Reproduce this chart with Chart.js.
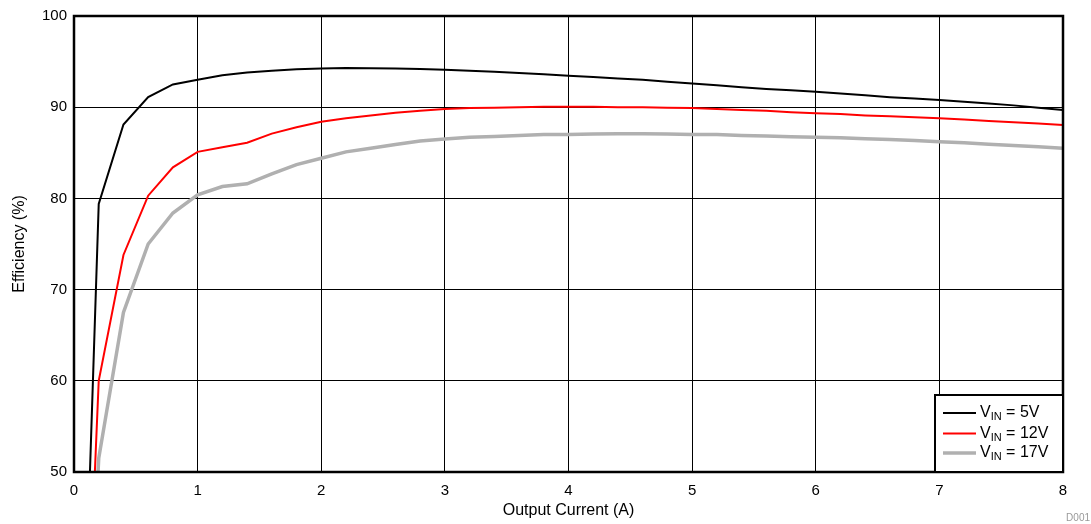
<!DOCTYPE html>
<html>
<head>
<meta charset="utf-8">
<script src="https://cdn.jsdelivr.net/npm/chart.js@4/dist/chart.umd.min.js"></script>
<style>
  html, body { margin: 0; padding: 0; background: #fff; }
  #wrap { width: 1091px; height: 524px; }
</style>
</head>
<body>
<div id="wrap"><canvas id="effChart"></canvas></div>
<script>
// Output current (A)
var currents = [0.1, 0.2, 0.4, 0.6, 0.8, 1.0, 1.2, 1.4, 1.6, 1.8, 2.0, 2.2, 2.4, 2.6, 2.8, 3.0, 3.2, 3.4, 3.6, 3.8,
  4.0, 4.2, 4.4, 4.6, 4.8, 5.0, 5.2, 5.4, 5.6, 5.8, 6.0, 6.2, 6.4, 6.6, 6.8, 7.0, 7.2, 7.4, 7.6, 7.8, 8.0];

// Efficiency (%) per input voltage
var eff5V = [38, 79.4, 88.1, 91.1, 92.5, 93.0, 93.5, 93.8, 94.0, 94.15, 94.25, 94.3, 94.28, 94.25, 94.2, 94.1, 94.0, 93.9, 93.75, 93.6,
  93.45, 93.3, 93.15, 93.0, 92.8, 92.6, 92.4, 92.2, 92.0, 91.85, 91.7, 91.5, 91.3, 91.1, 90.95, 90.8, 90.6, 90.4, 90.2, 89.95, 89.7];
var eff12V = [28, 60.0, 73.8, 80.3, 83.4, 85.1, 85.6, 86.1, 87.1, 87.8, 88.4, 88.8, 89.1, 89.4, 89.6, 89.8, 89.9, 89.95, 90.0, 90.05,
  90.05, 90.05, 90.0, 90.0, 89.95, 89.9, 89.8, 89.7, 89.6, 89.45, 89.35, 89.25, 89.1, 89.0, 88.9, 88.8, 88.65, 88.5, 88.35, 88.2, 88.05];
var eff17V = [25, 51.5, 67.5, 75.0, 78.4, 80.4, 81.3, 81.6, 82.7, 83.7, 84.4, 85.1, 85.5, 85.9, 86.3, 86.5, 86.7, 86.8, 86.9, 87.0,
  87.0, 87.05, 87.1, 87.1, 87.05, 87.0, 87.0, 86.9, 86.85, 86.75, 86.7, 86.65, 86.55, 86.45, 86.35, 86.2, 86.1, 85.95, 85.8, 85.65, 85.5];

var seriesNames = ['5V', '12V', '17V'];
var seriesColors = ['#000000', '#ff0000', '#b0b0b0'];
var seriesWidths = [2, 2, 3.5];

var FONT = 'Liberation Sans, Arial, sans-serif';

function toPoints(ys) {
  return currents.map(function (x, i) { return { x: x, y: ys[i] }; });
}

// Frame, legend box and footer label
var decorPlugin = {
  id: 'decor',
  afterDraw: function (chart) {
    var ctx = chart.ctx;
    var a = chart.chartArea;
    ctx.save();
    ctx.strokeStyle = '#000';
    ctx.lineWidth = 2.5;
    ctx.strokeRect(a.left, a.top, a.right - a.left, a.bottom - a.top);

    // legend
    var bx = a.right - 128, by = a.bottom - 77;
    ctx.fillStyle = '#fff';
    ctx.fillRect(bx, by, 128, 77);
    ctx.lineWidth = 2;
    ctx.strokeRect(bx, by, 128, 77);
    var rows = [18, 38.5, 58];
    for (var i = 0; i < seriesNames.length; i++) {
      var yy = by + rows[i];
      ctx.strokeStyle = seriesColors[i];
      ctx.lineWidth = seriesWidths[i];
      ctx.beginPath();
      ctx.moveTo(bx + 8, yy);
      ctx.lineTo(bx + 41, yy);
      ctx.stroke();
      ctx.fillStyle = '#000';
      ctx.textBaseline = 'middle';
      ctx.textAlign = 'left';
      ctx.font = '16px ' + FONT;
      var tx = bx + 45;
      ctx.fillText('V', tx, yy);
      tx += ctx.measureText('V').width;
      ctx.font = '11px ' + FONT;
      ctx.fillText('IN', tx, yy + 4);
      tx += ctx.measureText('IN').width;
      ctx.font = '16px ' + FONT;
      ctx.fillText(' = ' + seriesNames[i], tx, yy);
    }

    ctx.fillStyle = '#999';
    ctx.font = '10px ' + FONT;
    ctx.textAlign = 'right';
    ctx.textBaseline = 'middle';
    ctx.fillText('D001', 1090, 518);
    ctx.restore();
  }
};

var datasets = seriesNames.map(function (name, i) {
  return {
    label: 'VIN = ' + name,
    data: toPoints([eff5V, eff12V, eff17V][i]),
    borderColor: seriesColors[i],
    backgroundColor: seriesColors[i],
    borderWidth: seriesWidths[i],
    pointRadius: 0,
    tension: 0,
    fill: false
  };
});

new Chart(document.getElementById('effChart'), {
  type: 'line',
  data: { datasets: datasets },
  options: {
    responsive: true,
    maintainAspectRatio: false,
    animation: false,
    layout: { padding: { top: 14, right: 28, left: 10, bottom: 0 } },
    plugins: {
      legend: { display: false },
      tooltip: { enabled: false }
    },
    scales: {
      x: {
        type: 'linear',
        min: 0,
        max: 8,
        ticks: { stepSize: 1, color: '#000', font: { family: FONT, size: 15 }, padding: 10, maxRotation: 0 },
        grid: { color: '#000', lineWidth: 1, drawTicks: false },
        border: { display: false },
        title: { display: true, text: 'Output Current (A)', color: '#000', font: { family: FONT, size: 16 }, padding: { top: 0, bottom: 4 } },
        afterFit: function (s) { s.height = 52; }
      },
      y: {
        min: 50,
        max: 100,
        ticks: { stepSize: 10, color: '#000', font: { family: FONT, size: 15 }, padding: 7 },
        grid: { color: '#000', lineWidth: 1, drawTicks: false },
        border: { display: false },
        title: { display: true, text: 'Efficiency (%)', color: '#000', font: { family: FONT, size: 16 }, padding: { top: 0, bottom: 0 } },
        afterFit: function (s) { s.width = 64; }
      }
    }
  },
  plugins: [decorPlugin]
});
</script>
</body>
</html>
